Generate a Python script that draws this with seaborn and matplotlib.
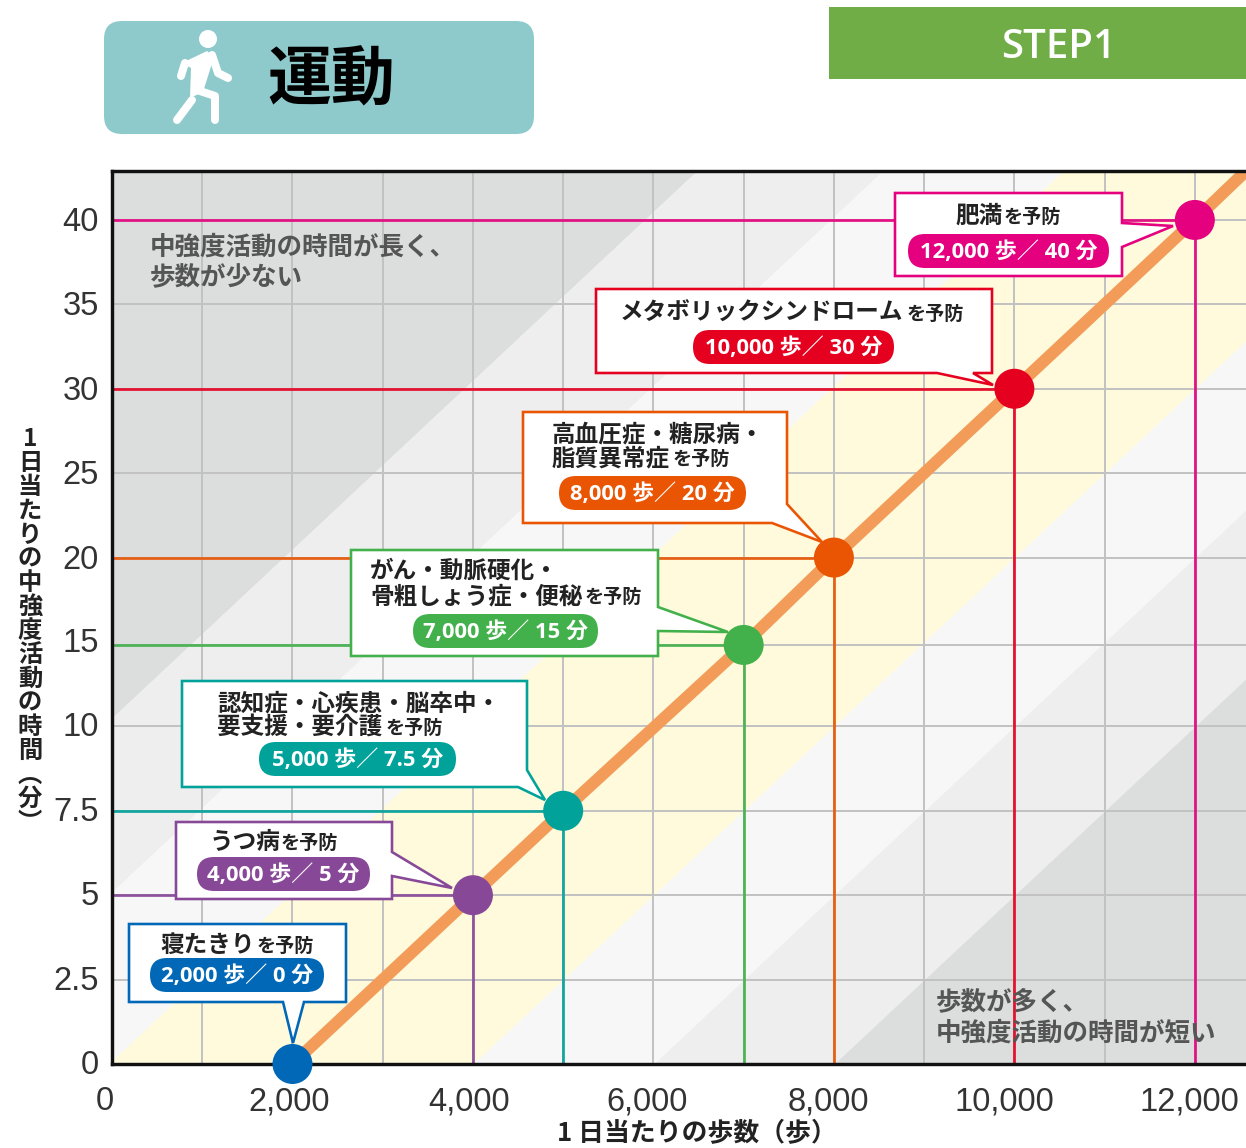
import numpy as np
import pandas as pd
import matplotlib
matplotlib.use("Agg")
import matplotlib.pyplot as plt
from matplotlib.patches import FancyBboxPatch, Polygon, Circle, Rectangle
from matplotlib.transforms import ScaledTranslation
import seaborn as sns

# ---------- data ----------
STEPS = [2000, 4000, 5000, 7000, 8000, 10000, 12000]
MINUTES = [0, 5, 7.5, 15, 20, 30, 40]
LINE_STEPS = [2000, 4000, 5000, 7000, 8000, 10000, 12000, 12567]
LINE_MINUTES = [0, 5, 7.5, 15, 20, 30, 40, 42.9]
COLORS = ["#0068b7", "#884898", "#00a29a", "#43b14b", "#ea5504", "#e60020", "#e4007f"]
X_TICKS = [0, 2000, 4000, 6000, 8000, 10000, 12000]
X_TICK_LABELS = ["0", "2,000", "4,000", "6,000", "8,000", "10,000", "12,000"]
X_GRID = [1000, 3000, 5000, 7000, 9000, 11000]
Y_TICKS = [0, 2.5, 5, 7.5, 10, 15, 20, 25, 30, 35, 40]
Y_TICK_LABELS = ["0", "2.5", "5", "7.5", "10", "15", "20", "25", "30", "35", "40"]
Y_POSITIONS = [0, 1, 2, 3, 4, 4.965, 6, 7, 8, 9, 10]
BAND_OFFSETS = [-4100, -2040, -40, 4000, 6000, 8000]
BAND_COLORS = ["#dcdddd", "#eeeeee", "#f6f7f6", "#fefadb", "#f6f7f6", "#eeeeee", "#dcdddd"]
PILLS = ["2,000 歩／ 0 分", "4,000 歩／ 5 分", "5,000 歩／ 7.5 分", "7,000 歩／ 15 分",
         "8,000 歩／ 20 分", "10,000 歩／ 30 分", "12,000 歩／ 40 分"]
TITLE_FIRST = ["", "", "認知症・心疾患・脳卒中・", "がん・動脈硬化・", "高血圧症・糖尿病・", "", ""]
TITLE_LAST = ["寝たきり", "うつ病", "要支援・要介護", "骨粗しょう症・便秘", "脂質異常症",
              "メタボリックシンドローム", "肥満"]
SUFFIX = "を予防"
YLABEL = "1日当たりの中強度活動の時間︵分︶"
XLABEL = "1 日当たりの歩数（歩）"
NOTE_TOP = ["中強度活動の時間が長く、", "歩数が少ない"]
NOTE_BOTTOM = ["歩数が多く、", "中強度活動の時間が短い"]
HEADER = "運動"
STEP = "STEP1"

# ---------- style ----------
W, H = 1246, 1148
CJK = ["Noto Sans CJK JP", "DejaVu Sans"]
MIX = ["Open Sans", "Noto Sans CJK JP", "DejaVu Sans"]
sns.set_theme(style="white")
plt.rcParams["font.family"] = CJK
PX = 0.72

fig = plt.figure(figsize=(W / 100, H / 100), dpi=100, facecolor="white")
L, R, T, B = 112, 1246, 171, 1064
ax = fig.add_axes([L / W, 1 - B / H, (R - L) / W, (B - T) / H])
ax.set_facecolor("white")


def to_pos(m):
    return np.interp(m, Y_TICKS, Y_POSITIONS) + \
        np.where(np.asarray(m) > 40, (np.asarray(m) - 40) / 5, 0) + \
        np.where(np.asarray(m) < 0, np.asarray(m) / 2.5, 0)


def to_min(p):
    return np.interp(p, Y_POSITIONS, Y_TICKS) + \
        np.where(np.asarray(p) > 10, (np.asarray(p) - 10) * 5, 0) + \
        np.where(np.asarray(p) < 0, np.asarray(p) * 2.5, 0)


XMAX, YMAX = 12567, 42.9
ax.set_yscale("function", functions=(to_pos, to_min))
ax.set_xlim(0, XMAX)
ax.set_ylim(0, YMAX)

# diagonal bands
xs = np.linspace(0, XMAX, 1500)
rmax = float(to_pos(YMAX))
edges = [None] + BAND_OFFSETS + [None]
for i, col in enumerate(BAND_COLORS):
    hi = np.full_like(xs, rmax) if edges[i] is None else np.clip((xs - edges[i]) / 1000, 0, rmax)
    lo = np.zeros_like(xs) if edges[i + 1] is None else np.clip((xs - edges[i + 1]) / 1000, 0, rmax)
    ax.fill_between(xs, to_min(lo), to_min(hi), color=col, lw=0, zorder=0.1)

# grid
ax.set_xticks(X_TICKS, X_TICK_LABELS)
ax.set_yticks(Y_TICKS, Y_TICK_LABELS)
ax.minorticks_off()
ax.set_axisbelow(True)
for g in X_TICKS[1:] + X_GRID:
    ax.axvline(g, color="#c2c2c2", lw=2.0 * PX, zorder=0.5)
for g in Y_TICKS[1:]:
    ax.axhline(g, color="#c2c2c2", lw=2.0 * PX, zorder=0.5)

# guide lines
for s, m, c in zip(STEPS, MINUTES, COLORS):
    if m > 0:
        ax.plot([0, s], [m, m], color=c, lw=2.8 * PX, zorder=2, alpha=0.9)
        ax.plot([s, s], [0, m], color=c, lw=2.8 * PX, zorder=2, alpha=0.9)

line_df = pd.DataFrame({"steps": LINE_STEPS, "minutes": LINE_MINUTES})
sns.lineplot(data=line_df, x="steps", y="minutes", color="#f39c5a", lw=12 * PX, ax=ax,
             zorder=3, sort=False, errorbar=None, solid_capstyle="butt")
pts = pd.DataFrame({"steps": STEPS, "minutes": MINUTES, "col": COLORS})
sns.scatterplot(data=pts, x="steps", y="minutes", hue="col", palette=dict(zip(COLORS, COLORS)),
                s=(40 * PX) ** 2, linewidth=0, legend=False, ax=ax, zorder=4, clip_on=False)
ax.set_xlim(0, XMAX)
ax.set_ylim(0, YMAX)

for s in ["left", "bottom", "top"]:
    ax.spines[s].set_visible(True)
    ax.spines[s].set_color("#111111")
    ax.spines[s].set_linewidth(3.4 * PX)
    ax.spines[s].set_zorder(3.5)
ax.spines["right"].set_visible(False)
ax.tick_params(axis="both", length=0, labelsize=23.5, colors="#333333")
ax.tick_params(axis="y", pad=9.5)
ax.tick_params(axis="x", pad=16)
X_SHIFT = [-7, -3, -4, -6, -6, -10, -5]
Y_SHIFT = [2, 2, 2, 2, 2, 5, 1, 1, 1, 1, 1]
for lab, dx in zip(ax.get_xticklabels(), X_SHIFT):
    lab.set_family(["Liberation Sans"])
    lab.set_transform(lab.get_transform() + ScaledTranslation(dx / 100, 0, fig.dpi_scale_trans))
for lab, dy in zip(ax.get_yticklabels(), Y_SHIFT):
    lab.set_family(["Liberation Sans"])
    lab.set_transform(lab.get_transform() + ScaledTranslation(0, dy / 100, fig.dpi_scale_trans))

ax.set_xlabel(XLABEL, fontsize=18.6, fontweight="bold", color="#222222", family=CJK)
ax.xaxis.set_label_coords((697 - L) / (R - L), (B - 1147) / (B - T), transform=ax.transAxes)
ax.xaxis.label.set_va("bottom")
ax.set_ylabel("\n".join(YLABEL), rotation=0, fontsize=17.5, fontweight="bold", color="#222222",
              family=CJK, linespacing=1.0, ha="center", va="center")
ax.yaxis.set_label_coords((30 - L) / (R - L), (B - 631) / (B - T), transform=ax.transAxes)

# ---------- overlay in figure pixels for header and callouts ----------
ov = fig.add_axes([0, 0, 1, 1], zorder=10)
ov.set_xlim(0, W)
ov.set_ylim(H, 0)
ov.axis("off")
ov.patch.set_alpha(0)

# header
ov.add_patch(FancyBboxPatch((104, 21), 430, 113, boxstyle="round,pad=0,rounding_size=18",
                            fc="#8ecacc", ec="none"))
ov.add_patch(Rectangle((829, 7), 417, 72, fc="#70ad47", ec="none"))
ov.text(331, 81, HEADER, fontsize=46, fontweight="bold", color="#000000", ha="center", va="center", family=CJK)
ov.text(1059, 48, STEP, fontsize=29, fontweight=600, color="white", ha="center", va="center", family=["Open Sans"])
# walker
ov.add_patch(Circle((208, 39), 9, fc="white", ec="none"))
ov.add_patch(Polygon([(182, 63), (207, 51), (214, 57), (203, 92), (190, 98), (191, 68)], fc="white", ec="none"))
for path in ([(185, 63), (181, 76)], [(212, 55), (218, 73), (228, 78)],
             [(197, 90), (215, 96), (215, 120)], [(192, 100), (177, 120)]):
    xx, yy = zip(*path)
    ov.plot(xx, yy, color="white", lw=8 * PX, solid_capstyle="round", solid_joinstyle="round")

# callouts: box outline with pointer, in pixels
OUTLINES = [
    [(129, 924), (346, 924), (346, 1002), (304, 1002), (293, 1043), (283, 1002), (129, 1002)],
    [(176, 822), (392, 822), (392, 852), (452, 888), (392, 876), (392, 899), (176, 899)],
    [(182, 681), (527, 681), (527, 770), (545, 800), (518, 787), (182, 787)],
    [(351, 550), (658, 550), (658, 607), (728, 632), (658, 631), (658, 656), (351, 656)],
    [(523, 412), (787, 412), (787, 504), (822, 542), (772, 523), (523, 523)],
    [(596, 289), (992, 289), (992, 373), (973, 373), (993, 385), (937, 373), (596, 373)],
    [(895, 193), (1122, 193), (1122, 223), (1173, 226), (1122, 247), (1122, 276), (895, 276)],
]
PILL_BOX = [(150, 958, 324, 992), (197, 857, 370, 891), (259, 742, 456, 776), (413, 614, 598, 648),
            (559, 476, 746, 510), (693, 330, 894, 364), (908, 234, 1109, 268)]
FIRST_Y = [None, None, 703, 571, 434, None, None]
LAST_Y = [945, 842, 727, 596, 458, 313, 216]
TITLE_LEFT = [160, 210, 217, 370, 552, 620, 955]
SUFFIX_LEFT = [257, 281, 386, 585, 673, 907, 1004]

for i, c in enumerate(COLORS):
    ov.add_patch(Polygon(OUTLINES[i], closed=True, fc="white", ec=c, lw=2.6 * PX, joinstyle="miter"))
    x0, y0, x1, y1 = PILL_BOX[i]
    ov.add_patch(FancyBboxPatch((x0, y0), x1 - x0, y1 - y0,
                                boxstyle=f"round,pad=0,rounding_size={(y1 - y0) / 2}", fc=c, ec="none"))
    ov.text((x0 + x1) / 2, (y0 + y1) / 2 + 1, PILLS[i], color="white", fontsize=15.8, fontweight="bold",
            ha="center", va="center", family=MIX)
    if TITLE_FIRST[i]:
        ov.text(TITLE_LEFT[i], FIRST_Y[i], TITLE_FIRST[i], fontsize=17, fontweight="bold", color="#222222",
                ha="left", va="center", family=CJK)
    ov.text(TITLE_LEFT[i], LAST_Y[i], TITLE_LAST[i], fontsize=17, fontweight="bold", color="#222222",
            ha="left", va="center", family=CJK)
    ov.text(SUFFIX_LEFT[i], LAST_Y[i] + 1, SUFFIX, fontsize=13.8, fontweight="bold", color="#222222",
            ha="left", va="center", family=CJK)

for txt, x, y in zip(NOTE_TOP + NOTE_BOTTOM, [150, 150, 936, 936], [247, 278, 1002, 1033]):
    ov.text(x, y, txt, fontsize=18.4, fontweight="bold", color="#555555", ha="left", va="center", family=CJK)

fig.savefig("out.png", dpi=100, facecolor="white")
